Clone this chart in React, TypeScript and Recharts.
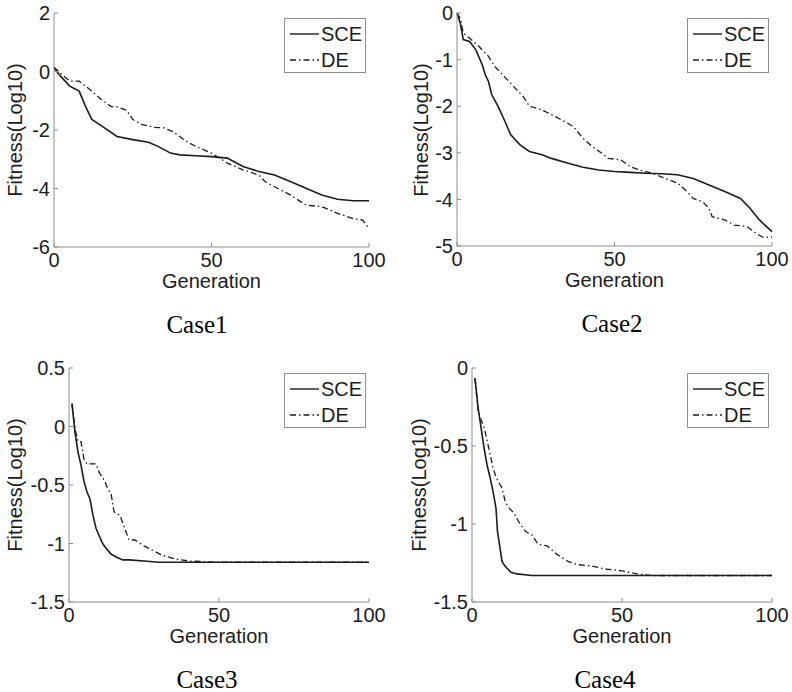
import React from "react";
import { LineChart, Line, XAxis, YAxis } from "recharts";

const GREY = "#8e8e8e";
const INK = "#1c1c1c";
const SANS = '"Liberation Sans", Arial, sans-serif';
const SERIF = '"Liberation Serif", "Times New Roman", serif';
const FS = 20;

const genTicks = [0, 50, 100];

// Case1
const case1Ticks = [-6, -4, -2, 0, 2];
const case1SceGen = [0, 2, 5, 8, 10, 12, 15, 20, 25, 30, 33, 37, 40, 45, 50, 55, 60, 65, 70, 75, 80, 85, 90, 95, 100];
const case1Sce = [0.13, -0.15, -0.5, -0.67, -1.19, -1.64, -1.85, -2.22, -2.33, -2.42, -2.56, -2.79, -2.85, -2.88, -2.91, -2.96, -3.25, -3.42, -3.54, -3.76, -3.99, -4.22, -4.37, -4.42, -4.42];
const case1DeGen = [0, 3, 5, 8, 12, 15, 18, 20, 23, 25, 28, 32, 35, 38, 42, 45, 50, 55, 60, 65, 67, 70, 75, 80, 85, 90, 95, 98, 100];
const case1De = [0.15, -0.15, -0.33, -0.33, -0.67, -0.96, -1.19, -1.21, -1.32, -1.64, -1.82, -1.91, -1.93, -2.07, -2.39, -2.56, -2.79, -3.13, -3.36, -3.54, -3.76, -3.94, -4.22, -4.57, -4.62, -4.85, -5.03, -5.08, -5.37];

// Case2
const case2Ticks = [-5, -4, -3, -2, -1, 0];
const case2SceGen = [0, 1, 2, 4, 6, 8, 9, 10, 11, 13, 15, 17, 20, 23, 27, 30, 35, 40, 45, 50, 55, 60, 65, 70, 75, 80, 85, 90, 93, 96, 100];
const case2Sce = [0, -0.21, -0.57, -0.61, -0.79, -1.11, -1.33, -1.47, -1.75, -2.0, -2.29, -2.61, -2.83, -2.97, -3.04, -3.12, -3.22, -3.31, -3.37, -3.4, -3.42, -3.44, -3.45, -3.47, -3.55, -3.69, -3.83, -3.98, -4.19, -4.44, -4.69];
const case2DeGen = [0, 1, 2, 4, 7, 10, 12, 15, 18, 21, 23, 27, 30, 35, 37, 40, 43, 46, 48, 52, 55, 58, 62, 65, 70, 73, 75, 78, 80, 81, 85, 88, 92, 95, 97, 100];
const case2De = [0, -0.11, -0.43, -0.54, -0.72, -0.93, -1.15, -1.36, -1.58, -1.79, -2.0, -2.08, -2.18, -2.36, -2.44, -2.69, -2.87, -3.01, -3.12, -3.15, -3.3, -3.37, -3.44, -3.52, -3.65, -3.83, -3.98, -4.05, -4.19, -4.37, -4.44, -4.55, -4.58, -4.73, -4.81, -4.81];

// Case3
const case3Ticks = [-1.5, -1, -0.5, 0, 0.5];
const case3SceGen = [1, 2, 3, 4, 5, 6, 7, 8, 9, 10, 11, 12, 14, 16, 18, 20, 25, 30, 50, 75, 100];
const case3Sce = [0.195, -0.05, -0.22, -0.33, -0.47, -0.56, -0.62, -0.76, -0.87, -0.93, -0.99, -1.03, -1.09, -1.12, -1.14, -1.14, -1.15, -1.16, -1.16, -1.16, -1.16];
const case3DeGen = [1, 2, 3, 4, 5, 6, 8, 9, 10, 12, 13, 14, 15, 17, 19, 20, 22, 25, 28, 31, 35, 40, 50, 75, 100];
const case3De = [0.195, -0.02, -0.13, -0.13, -0.28, -0.32, -0.32, -0.32, -0.39, -0.47, -0.54, -0.57, -0.73, -0.76, -0.9, -0.97, -0.97, -1.02, -1.06, -1.1, -1.13, -1.15, -1.16, -1.16, -1.16];

// Case4
const case4Ticks = [-1.5, -1, -0.5, 0];
const case4SceGen = [1, 2, 3, 4, 5, 6, 7, 8, 8.5, 9, 10, 11, 13, 15, 20, 50, 100];
const case4Sce = [-0.065, -0.25, -0.38, -0.51, -0.62, -0.7, -0.79, -0.9, -1.05, -1.11, -1.24, -1.27, -1.31, -1.32, -1.33, -1.33, -1.33];
const case4DeGen = [1, 2, 3, 4, 5, 6, 7, 8, 10, 11, 12, 14, 16, 18, 20, 22, 25, 28, 32, 35, 40, 45, 50, 55, 60, 100];
const case4De = [-0.065, -0.27, -0.33, -0.38, -0.46, -0.55, -0.64, -0.7, -0.77, -0.85, -0.89, -0.93, -1.0, -1.05, -1.07, -1.13, -1.14, -1.19, -1.24, -1.26, -1.27, -1.29, -1.3, -1.32, -1.33, -1.33];

const zip = (g: number[], v: number[]) => g.map((x, i) => ({ g: x, v: v[i] }));

type Box = { x0: number; x1: number; y0: number; y1: number };

const DE_DASH = "6 3 1.5 3";

const textBase: React.CSSProperties = {
  position: "absolute",
  fontFamily: SANS,
  fontSize: FS,
  lineHeight: `${FS}px`,
  color: INK,
  whiteSpace: "nowrap",
  textAlign: "center",
};

function LegendBox({ x, y }: { x: number; y: number }) {
  const row = (label: string, dash?: string) => (
    <div style={{ display: "flex", alignItems: "center", height: 26 }}>
      <svg width={30} height={10} style={{ marginLeft: 5 }}>
        <line x1={0} y1={5} x2={29} y2={5} stroke={INK} strokeWidth={1.4} strokeDasharray={dash} />
      </svg>
      <span style={{ marginLeft: 1 }}>{label}</span>
    </div>
  );
  return (
    <div
      style={{
        position: "absolute",
        left: x,
        top: y,
        width: 82,
        height: 55,
        boxSizing: "border-box",
        border: `1px solid ${GREY}`,
        background: "#fff",
        fontFamily: SANS,
        fontSize: FS,
        color: INK,
        lineHeight: 1,
        paddingTop: 2,
      }}
    >
      {row("SCE")}
      {row("DE", DE_DASH)}
    </div>
  );
}

function Panel({
  left,
  top,
  width,
  height,
  plot,
  ticks,
  sce,
  de,
  caseLabel,
  caseX,
  titleX,
}: {
  left: number;
  top: number;
  width: number;
  height: number;
  plot: Box;
  ticks: number[];
  sce: { g: number; v: number }[];
  de: { g: number; v: number }[];
  caseLabel: string;
  caseX: number;
  titleX: number;
}) {
  const xAxisH = 40;
  const domain: [number, number] = [ticks[0], ticks[ticks.length - 1]];
  const midY = (plot.y0 + plot.y1) / 2;
  const midX = (plot.x0 + plot.x1) / 2;
  const tickStyle = { fill: INK, fontSize: FS, fontFamily: SANS };
  return (
    <div style={{ position: "absolute", left, top, width, height }}>
      <LineChart
        width={width}
        height={height}
        margin={{ top: plot.y0, right: width - plot.x1, left: 0, bottom: height - plot.y1 - xAxisH }}
        style={{ fontSize: FS, fontFamily: SANS }}
      >
        <XAxis
          dataKey="g"
          type="number"
          domain={[0, 100]}
          ticks={genTicks}
          interval={0}
          height={xAxisH}
          tickSize={-4}
          tickMargin={10}
          fontSize={FS}
          tick={tickStyle}
          axisLine={{ stroke: GREY }}
          tickLine={{ stroke: GREY }}
          allowDuplicatedCategory={false}
        />
        <XAxis
          xAxisId="t"
          orientation="top"
          type="number"
          domain={[0, 100]}
          ticks={genTicks}
          interval={0}
          height={0}
          tickSize={-4}
          tick={false}
          axisLine={{ stroke: GREY }}
          tickLine={{ stroke: GREY }}
        />
        <YAxis
          type="number"
          domain={domain}
          ticks={ticks}
          interval={0}
          width={plot.x0}
          tickSize={-4}
          tickMargin={8}
          fontSize={FS}
          tick={tickStyle}
          axisLine={{ stroke: GREY }}
          tickLine={{ stroke: GREY }}
        />
        <YAxis
          yAxisId="r"
          orientation="right"
          type="number"
          domain={domain}
          ticks={ticks}
          interval={0}
          width={0}
          tickSize={-4}
          tick={false}
          axisLine={{ stroke: GREY }}
          tickLine={{ stroke: GREY }}
        />
        <Line data={de} dataKey="v" type="linear" stroke={INK} strokeWidth={1.3} strokeDasharray={DE_DASH} dot={false} isAnimationActive={false} />
        <Line data={sce} dataKey="v" type="linear" stroke={INK} strokeWidth={1.6} dot={false} isAnimationActive={false} />
      </LineChart>
      <LegendBox x={plot.x1 - 3 - 82} y={plot.y0 + 5} />
      <div style={{ ...textBase, left: midX - 80, width: 160, top: plot.y1 + 34 - FS / 2 }}>Generation</div>
      <div
        style={{
          ...textBase,
          left: titleX - 100,
          width: 200,
          top: midY - FS / 2,
          transform: "rotate(-90deg)",
        }}
      >
        Fitness(Log10)
      </div>
      <div
        style={{
          position: "absolute",
          left: caseX - 60,
          width: 120,
          top: plot.y1 + 78 - 13,
          textAlign: "center",
          fontFamily: SERIF,
          fontSize: 25,
          lineHeight: "26px",
          color: "#000",
        }}
      >
        {caseLabel}
      </div>
    </div>
  );
}

export default function App() {
  return (
    <div style={{ position: "absolute", left: 0, top: 0, width: 792, height: 692, background: "#fff" }}>
      <Panel
        left={0}
        top={0}
        width={400}
        height={345}
        plot={{ x0: 54, x1: 369, y0: 13, y1: 247 }}
        ticks={case1Ticks}
        sce={zip(case1SceGen, case1Sce)}
        de={zip(case1DeGen, case1De)}
        caseLabel="Case1"
        caseX={197}
        titleX={15}
      />
      <Panel
        left={400}
        top={0}
        width={392}
        height={345}
        plot={{ x0: 57, x1: 372, y0: 13, y1: 246 }}
        ticks={case2Ticks}
        sce={zip(case2SceGen, case2Sce)}
        de={zip(case2DeGen, case2De)}
        caseLabel="Case2"
        caseX={212}
        titleX={21}
      />
      <Panel
        left={0}
        top={355}
        width={400}
        height={337}
        plot={{ x0: 69, x1: 369, y0: 13, y1: 247 }}
        ticks={case3Ticks}
        sce={zip(case3SceGen, case3Sce)}
        de={zip(case3DeGen, case3De)}
        caseLabel="Case3"
        caseX={207}
        titleX={15}
      />
      <Panel
        left={400}
        top={355}
        width={392}
        height={337}
        plot={{ x0: 72, x1: 372, y0: 13, y1: 247 }}
        ticks={case4Ticks}
        sce={zip(case4SceGen, case4Sce)}
        de={zip(case4DeGen, case4De)}
        caseLabel="Case4"
        caseX={205}
        titleX={19}
      />
    </div>
  );
}
